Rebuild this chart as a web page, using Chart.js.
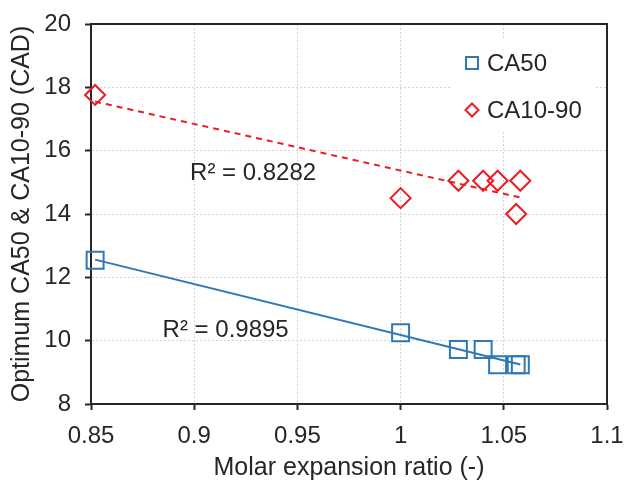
<!DOCTYPE html>
<html>
<head>
<meta charset="utf-8">
<script src="https://cdn.jsdelivr.net/npm/chart.js@4.4.0/dist/chart.umd.min.js"></script>
<style>
  html, body { margin: 0; padding: 0; background: #fff; }
</style>
</head>
<body>
<canvas id="chart" width="625" height="481"></canvas>
<script>
// Values
const ratio = [0.852, 1.0, 1.028, 1.04, 1.047, 1.056, 1.058];
const ca50 = [12.54, 10.25, 9.72, 9.72, 9.24, 9.24, 9.24];
const ca1090 = [17.76, 14.5, 15.05, 15.05, 15.05, 14.0, 15.05];

// Trendline end points (as drawn in the reference)
const trendX = [0.852, 1.058];
const ca50Trend = [12.56, 9.25];
const ca1090Trend = [17.55, 14.52];

const xTickLabels = ['0.85', '0.9', '0.95', '1', '1.05', '1.1'];
const yTickLabels = ['8', '10', '12', '14', '16', '18', '20'];

const r2Labels = ['R² = 0.9895', 'R² = 0.8282'];
const r2At = [[0.8847, 10.34], [0.898, 15.29]];

const BLUE = '#2f78b4';
const RED = '#ec1c24';
const INK = '#262626';
const FONT = '"Liberation Sans", Arial, sans-serif';

const toPoints = (xs, ys) => xs.map((x, i) => ({ x: x, y: ys[i] }));

// Frame, R² notes and the legend box
const notesPlugin = {
    id: 'notes',
    afterDatasetsDraw(chart) {
        const { ctx, chartArea: a, scales: { x, y } } = chart;
        ctx.save();

        // top/right frame lines
        ctx.strokeStyle = INK;
        ctx.lineWidth = 2;
        ctx.beginPath();
        ctx.moveTo(a.left, a.top);
        ctx.lineTo(a.right, a.top);
        ctx.lineTo(a.right, a.bottom);
        ctx.stroke();

        // R² labels
        ctx.font = '24px ' + FONT;
        ctx.fillStyle = INK;
        ctx.textAlign = 'left';
        ctx.textBaseline = 'middle';
        r2Labels.forEach((t, i) => {
            ctx.fillText(t, x.getPixelForValue(r2At[i][0]), y.getPixelForValue(r2At[i][1]));
        });

        // legend
        ctx.fillStyle = '#fff';
        ctx.fillRect(a.right - 155, a.top + 14, 143, 94);
        const mx = a.right - 135;
        const rows = [a.top + 39, a.top + 86];
        ctx.lineWidth = 2;

        ctx.strokeStyle = BLUE;
        ctx.strokeRect(mx - 6, rows[0] - 6, 12, 12);

        ctx.strokeStyle = RED;
        ctx.beginPath();
        ctx.moveTo(mx, rows[1] - 6.5);
        ctx.lineTo(mx + 6.5, rows[1]);
        ctx.lineTo(mx, rows[1] + 6.5);
        ctx.lineTo(mx - 6.5, rows[1]);
        ctx.closePath();
        ctx.stroke();

        ctx.fillStyle = INK;
        ctx.fillText(chart.data.datasets[0].label, mx + 15, rows[0] + 1);
        ctx.fillText(chart.data.datasets[1].label, mx + 15, rows[1] + 1);
        ctx.restore();
    }
};

const ctx = document.getElementById('chart').getContext('2d');
new Chart(ctx, {
    type: 'scatter',
    data: {
        datasets: [
            {
                label: 'CA50',
                data: toPoints(ratio, ca50),
                pointStyle: 'rect',
                pointRadius: 12,
                pointHoverRadius: 12,
                borderColor: BLUE,
                backgroundColor: 'rgba(0,0,0,0)',
                borderWidth: 2,
                clip: false,
                order: 1
            },
            {
                label: 'CA10-90',
                data: toPoints(ratio, ca1090),
                pointStyle: 'rectRot',
                pointRadius: 10,
                pointHoverRadius: 10,
                borderColor: RED,
                backgroundColor: 'rgba(0,0,0,0)',
                borderWidth: 2,
                clip: false,
                order: 1
            },
            {
                type: 'line',
                label: 'CA50 trend',
                data: toPoints(trendX, ca50Trend),
                borderColor: BLUE,
                borderWidth: 2,
                pointRadius: 0,
                fill: false,
                order: 2
            },
            {
                type: 'line',
                label: 'CA10-90 trend',
                data: toPoints(trendX, ca1090Trend),
                borderColor: RED,
                borderWidth: 2,
                borderDash: [6, 5],
                pointRadius: 0,
                fill: false,
                order: 2
            }
        ]
    },
    options: {
        responsive: false,
        animation: false,
        devicePixelRatio: 1,
        layout: {
            padding: { top: 24, right: 18, left: 0, bottom: 0 }
        },
        plugins: {
            legend: { display: false },
            tooltip: { enabled: false }
        },
        scales: {
            x: {
                type: 'linear',
                min: 0.85,
                max: 1.1,
                afterFit: (scale) => {
                    scale.height = 77;
                    scale.paddingLeft = 0;
                    scale.paddingRight = 0;
                },
                ticks: {
                    stepSize: 0.05,
                    color: INK,
                    padding: 12,
                    maxRotation: 0,
                    font: { family: FONT, size: 24 },
                    callback: (value, index) => xTickLabels[index]
                },
                grid: {
                    color: '#d4d4d4',
                    lineWidth: 1,
                    tickColor: INK,
                    tickLength: 6,
                    tickWidth: 2
                },
                border: { color: INK, width: 2, dash: [2, 2] },
                title: {
                    display: true,
                    text: 'Molar expansion ratio (-)',
                    color: INK,
                    font: { family: FONT, size: 25, lineHeight: 1 },
                    padding: { top: 0, bottom: 0 }
                }
            },
            y: {
                min: 8,
                max: 20,
                afterFit: (scale) => {
                    scale.width = 91;
                    scale.paddingTop = 0;
                    scale.paddingBottom = 0;
                },
                ticks: {
                    stepSize: 2,
                    color: INK,
                    padding: 14,
                    font: { family: FONT, size: 24 },
                    callback: (value, index) => yTickLabels[index]
                },
                grid: {
                    color: '#d4d4d4',
                    lineWidth: 1,
                    tickColor: INK,
                    tickLength: 6,
                    tickWidth: 2
                },
                border: { color: INK, width: 2, dash: [2, 2] },
                title: {
                    display: true,
                    text: 'Optimum CA50 & CA10-90 (CAD)',
                    color: INK,
                    font: { family: FONT, size: 25, lineHeight: 1 },
                    padding: { top: 10, bottom: 0 }
                }
            }
        }
    },
    plugins: [notesPlugin]
});
</script>
</body>
</html>
